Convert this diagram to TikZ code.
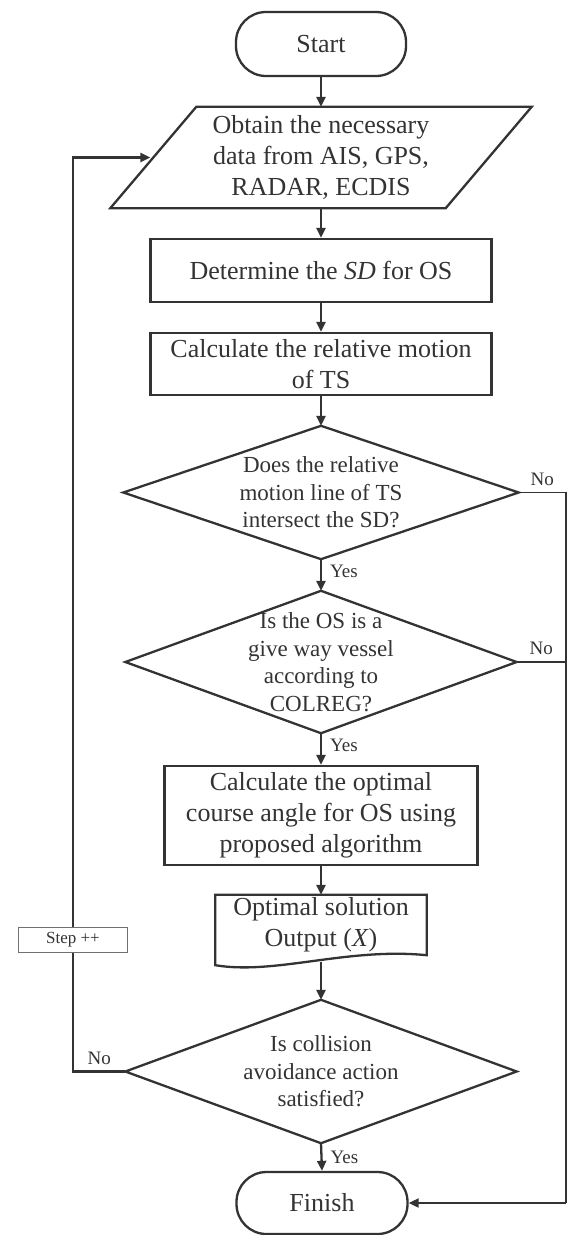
\documentclass[tikz,border=0pt]{standalone}
\usepackage{fontspec}
\setmainfont{Liberation Serif}
\usetikzlibrary{arrows.meta,calc}
\definecolor{ink}{HTML}{333333}
\begin{document}
\begin{tikzpicture}[x=1pt,y=-1pt,
  base/.style={draw=ink, line width=2.3pt, text=ink, align=center, inner sep=0pt},
  term/.style={base, rounded corners=30pt, minimum width=170pt, font=\fontsize{26}{31}\selectfont},
  procbox/.style={base, rectangle, font=\fontsize{26}{31}\selectfont},
  txt/.style={draw=none, text=ink, align=center, inner sep=0pt},
  bigtxt/.style={txt, font=\fontsize{26}{31}\selectfont},
  dtxt/.style={txt, font=\fontsize{23}{27.5}\selectfont},
  lab/.style={text=ink, font=\fontsize{19}{22}\selectfont, inner sep=0pt},
  line/.style={draw=ink, line width=2.3pt},
  thinline/.style={draw=ink, line width=1.9pt},
  arr/.style={line, -{Triangle[length=10pt,width=9pt]}},
]
\useasboundingbox (0,0) rectangle (568,1235);

% nodes
\node[term, minimum height=64pt] (start) at (321,44) {Start};
\node[bigtxt, minimum width=421pt, minimum height=101pt] (para) at (321,157.5)
  {Obtain the necessary\\data from AIS, GPS,\\RADAR, ECDIS};
\draw[line] ($(para.north west)+(86,0)$) -- (para.north east)
  -- ($(para.south east)+(-86,0)$) -- (para.south west) -- cycle;
\coordinate (pin) at ($(para.west)+(40,0)$);

\node[procbox, minimum width=341pt, minimum height=63pt] (det) at (321,270.5)
  {Determine the \textit{SD} for OS};
\node[procbox, minimum width=341pt, minimum height=62pt] (rel) at (321,364)
  {Calculate the relative motion\\of TS};

\node[dtxt, minimum width=395pt, minimum height=133pt] (d1) at (321,492.5)
  {Does the relative\\motion line of TS\\intersect the SD?};
\draw[line] (d1.north) -- (d1.east) -- (d1.south) -- (d1.west) -- cycle;

\node[dtxt, minimum width=391pt, minimum height=142pt] (d2) at (321,662)
  {Is the OS is a\\give way vessel\\according to\\COLREG?};
\draw[line] (d2.north) -- (d2.east) -- (d2.south) -- (d2.west) -- cycle;

\node[procbox, minimum width=313pt, minimum height=99pt] (calc) at (321,815.5)
  {Calculate the optimal\\course angle for OS using\\proposed algorithm};

\node[bigtxt, minimum width=211pt, minimum height=60pt] (doc) at (321,925)
  {Optimal solution\\Output (\textit{X})};
\draw[line] (doc.north west) -- (doc.north east) -- (doc.south east)
  .. controls ($(doc.south east)+(-80,-8)$) and ($(doc.south west)+(60,20)$) .. ($(doc.south west)+(0,10)$)
  -- cycle;
\coordinate (docb) at ($(doc.south)+(0,7)$);

\node[dtxt, minimum width=391pt, minimum height=143pt] (d3) at (321,1071.5)
  {Is collision\\avoidance action\\satisfied?};
\draw[line] (d3.north) -- (d3.east) -- (d3.south) -- (d3.west) -- cycle;

\node[term, minimum height=62pt, minimum width=171pt] (finish) at (322,1203) {Finish};

\node[draw=ink!70, line width=1pt, text=ink, fill=white, inner sep=0pt,
  font=\fontsize{17}{20}\selectfont, minimum width=109pt, minimum height=25pt] (step) at (73,939.5) {Step ++};

% main flow
\draw[arr] (start.south) -- (para.north);
\draw[arr] (para.south) -- (det.north);
\draw[arr] (det.south) -- (rel.north);
\draw[arr] (rel.south) -- (d1.north);
\draw[arr] (d1.south) -- node[lab, right=8pt, pos=0.38]{Yes} (d2.north);
\draw[arr] (d2.south) -- node[lab, right=8pt, pos=0.4]{Yes} (calc.north);
\draw[arr] (calc.south) -- (doc.north);
\draw[arr] (docb) -- (d3.north);
\draw[arr] (d3.south) -- node[lab, right=8pt, pos=0.5]{Yes} (finish.north);

% right "No" branches
\coordinate (r1) at (566,492.5);
\coordinate (r2) at (566,1203);
\draw[thinline] (d1.east) -- node[lab, above=6pt, midway]{No} (r1) -- (r2);
\draw[thinline] (d2.east) -- node[lab, above=6pt, midway]{No} (d2.east -| r1);
\draw[thinline, -{Triangle[length=10pt,width=9pt]}] (r2) -- (finish.east);

% left loop
\draw[line] (d3.west) -- node[lab, above=6pt, midway]{No} (d3.west -| step.south) -- (step.south);
\draw[arr] (step.north) |- (pin);
\end{tikzpicture}
\end{document}
